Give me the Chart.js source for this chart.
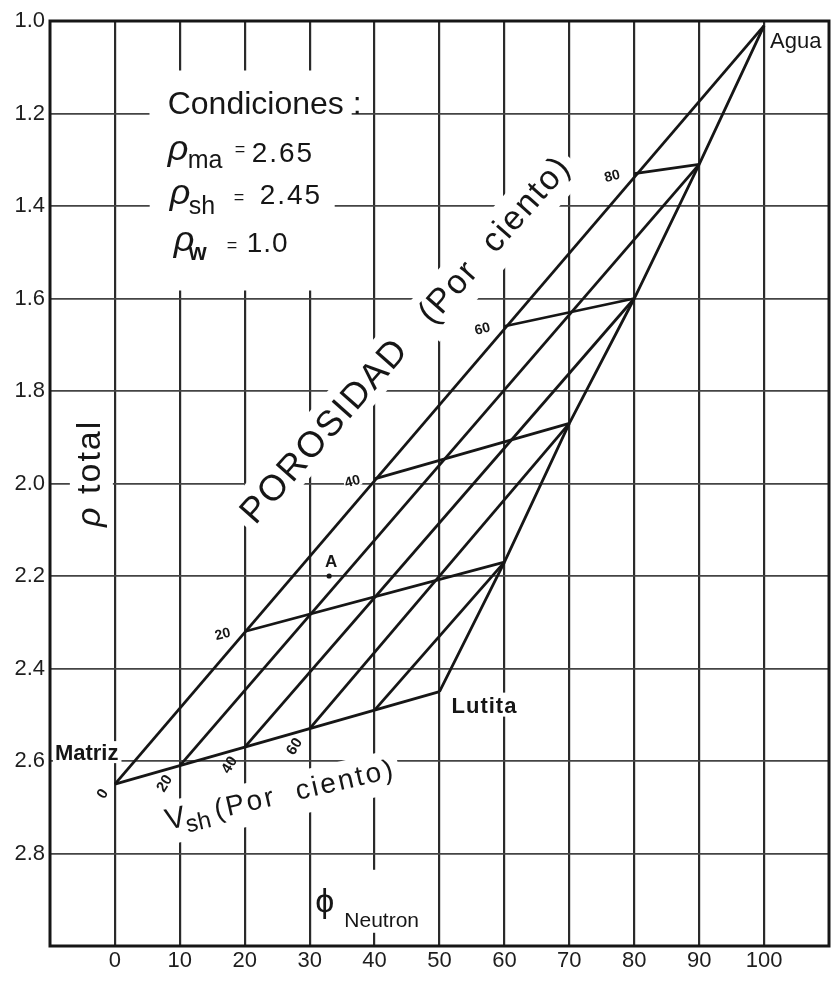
<!DOCTYPE html>
<html>
<head>
<meta charset="utf-8">
<script src="https://cdn.jsdelivr.net/npm/chart.js@4.4.1/dist/chart.umd.min.js"></script>
<style>
  html, body { margin: 0; padding: 0; background: #fff; }
  canvas { display: block; }
</style>
</head>
<body>
<canvas id="chart" width="833" height="984"></canvas>
<script>
// Neutron–density crossplot with shale (Lutita) correction grid

// axis ticks
const neutronTicks = [0, 10, 20, 30, 40, 50, 60, 70, 80, 90, 100];
const densityTicks = [1.0, 1.2, 1.4, 1.6, 1.8, 2.0, 2.2, 2.4, 2.6, 2.8];

// end members: [phi neutron %, bulk density]
const matrixPoint = [0, 2.65];
const shalePoint = [50, 2.45];
const waterPoint = [100, 1.01];

// porosity lines (%): from the clean matrix–water line to the shale–water line
const porosityValues = [20, 40, 60, 80];
const porosityClean = [[20, 2.32], [40, 1.99], [60, 1.66], [80, 1.33]];
const porosityShaly = [[60, 2.17], [70, 1.87], [80, 1.60], [90, 1.31]];

// shale volume lines (%): from the matrix–shale line up to the shale–water line
const vshValues = [0, 20, 40, 60, 80];
const vshBase = [[0, 2.65], [10, 2.61], [20, 2.57], [30, 2.53], [40, 2.49]];
const vshTop = [[100, 1.01], [90, 1.31], [80, 1.60], [70, 1.87], [60, 2.17]];
const vshLabelled = [0, 20, 40, 60];

// sample point A
const pointA = [33, 2.20];

const INK = '#161616';
const FONT = '"Liberation Sans", Arial, Helvetica, sans-serif';
const pt = p => ({ x: p[0], y: p[1] });

function segment(points, width) {
  return {
    type: 'scatter',
    showLine: true,
    data: points.map(pt),
    borderColor: INK,
    borderWidth: width,
    pointRadius: 0,
    pointHoverRadius: 0,
    fill: false,
    tension: 0
  };
}

const datasets = [];
datasets.push(segment([matrixPoint, shalePoint], 2.8));
datasets.push(segment([shalePoint, ...porosityShaly, waterPoint], 2.8));
vshValues.forEach((v, i) => datasets.push(segment([vshBase[i], vshTop[i]], 2.8)));
porosityValues.forEach((v, i) => datasets.push(segment([porosityClean[i], porosityShaly[i]], 2.8)));
datasets.push({
  type: 'scatter',
  data: [pt(pointA)],
  pointRadius: 2.6,
  pointBackgroundColor: INK,
  pointBorderColor: INK,
  pointBorderWidth: 0
});

// text placed on the plot: anchor in data units, offsets in pixels
const textGroups = [
  { at: [8.13, 1.2], runs: [
      { text: 'Condiciones :', font: `32px ${FONT}`, dx: 0, dy: 0 },
      { text: 'ρ', font: `italic 36px ${FONT}`, dx: 0, dy: 46 },
      { text: 'ma', font: `25px ${FONT}`, dx: 20, dy: 54 },
      { text: '=', font: `18px ${FONT}`, dx: 67, dy: 41 },
      { text: '2.65', font: `28px ${FONT}`, dx: 84, dy: 48, spacing: 2 },
      { text: 'ρ', font: `italic 36px ${FONT}`, dx: 2, dy: 90 },
      { text: 'sh', font: `25px ${FONT}`, dx: 21, dy: 100 },
      { text: '=', font: `18px ${FONT}`, dx: 66, dy: 89 },
      { text: '2.45', font: `28px ${FONT}`, dx: 92, dy: 90, spacing: 2 },
      { text: 'ρ', font: `italic 36px ${FONT}`, dx: 6, dy: 137 },
      { text: 'w', font: `bold 23px ${FONT}`, dx: 21, dy: 146 },
      { text: '=', font: `18px ${FONT}`, dx: 59, dy: 137 },
      { text: '1.0', font: `28px ${FONT}`, dx: 79, dy: 138, spacing: 1 }
    ],
    mask: [[-18, -43, 185, 220], [-18, -25, 202, 45]] },
  { at: [32.41, 1.8876], rotate: -48.5, align: 'center', baseline: 'middle',
    runs: [{ text: 'POROSIDAD', font: `36px ${FONT}`, dx: 0, dy: 0, spacing: 2 }], mask: 9 },
  { at: [58.6, 1.4746], rotate: -48.5, align: 'center', baseline: 'middle',
    runs: [{ text: '(Por  ciento)', font: `34px ${FONT}`, dx: 0, dy: 0, spacing: 2 }], mask: 9 },
  { at: [-2.32, 2.094], rotate: -90, runs: [
      { text: 'ρ', font: `italic 34px ${FONT}`, dx: 0, dy: 0 },
      { text: 'total', font: `34px ${FONT}`, dx: 33, dy: 0, spacing: 2 }
    ], mask: 6 },
  { at: [30.87, 2.926], runs: [
      { text: 'ϕ', font: `34px ${FONT}`, dx: 0, dy: 0 },
      { text: 'Neutron', font: `21px ${FONT}`, dx: 29, dy: 15 }
    ], mask: [[-3, -42, 116, 63]] },
  { at: [8.13, 2.749], rotate: -13, runs: [
      { text: 'V', font: `30px ${FONT}`, dx: 0, dy: 0 },
      { text: 'sh', font: `24px ${FONT}`, dx: 19, dy: 7 },
      { text: '(Por  ciento)', font: `28px ${FONT}`, dx: 50, dy: 0, spacing: 2.5 }
    ], mask: 8 },
  { at: matrixPoint, runs: [{ text: 'Matriz', font: `bold 22px ${FONT}`, dx: -60, dy: -24 }], mask: 3 },
  { at: shalePoint, runs: [{ text: 'Lutita', font: `bold 22px ${FONT}`, dx: 12, dy: 21, spacing: 1 }], mask: 4 },
  { at: waterPoint, runs: [{ text: 'Agua', font: `22px ${FONT}`, dx: 6, dy: 22 }] },
  { at: pointA, align: 'center', runs: [{ text: 'A', font: `bold 17px ${FONT}`, dx: 2, dy: -9 }] }
];
porosityValues.forEach((v, i) => textGroups.push({
  at: porosityClean[i], rotate: -15, align: 'center', baseline: 'middle',
  offset: [-22, 3],
  runs: [{ text: String(v), font: `bold 14px ${FONT}`, dx: 0, dy: 0 }], mask: 1
}));
vshLabelled.forEach((v, i) => textGroups.push({
  at: vshBase[i], rotate: -58, align: 'center', baseline: 'middle',
  offset: i === 0 ? [-12, 10] : [-15, 18],
  runs: [{ text: String(v), font: `bold 15px ${FONT}`, dx: 0, dy: 0 }]
}));

function anchorPx(chart, g) {
  const { x, y } = chart.scales;
  const off = g.offset || [0, 0];
  return [x.getPixelForValue(g.at[0]) + off[0], y.getPixelForValue(g.at[1]) + off[1]];
}

function setRun(ctx, g, r) {
  ctx.font = r.font;
  ctx.letterSpacing = (r.spacing || 0) + 'px';
  ctx.textAlign = g.align || 'left';
  ctx.textBaseline = g.baseline || 'alphabetic';
}

const plotText = {
  id: 'plotText',
  beforeDatasetsDraw(chart) {
    const { ctx, chartArea: a } = chart;
    // white patches under the lettering interrupt the grid
    textGroups.forEach(g => {
      if (g.mask === undefined) return;
      const [px, py] = anchorPx(chart, g);
      ctx.save();
      ctx.translate(px, py);
      if (g.rotate) ctx.rotate(g.rotate * Math.PI / 180);
      ctx.fillStyle = '#fff';
      if (Array.isArray(g.mask)) {
        g.mask.forEach(m => ctx.fillRect(m[0], m[1], m[2], m[3]));
      } else {
        let x0 = Infinity, x1 = -Infinity, y0 = Infinity, y1 = -Infinity;
        g.runs.forEach(r => {
          setRun(ctx, g, r);
          const m = ctx.measureText(r.text);
          x0 = Math.min(x0, r.dx - m.actualBoundingBoxLeft);
          x1 = Math.max(x1, r.dx + m.actualBoundingBoxRight);
          y0 = Math.min(y0, r.dy - m.actualBoundingBoxAscent);
          y1 = Math.max(y1, r.dy + m.actualBoundingBoxDescent);
        });
        const p = g.mask;
        ctx.fillRect(x0 - p, y0 - p, x1 - x0 + 2 * p, y1 - y0 + 2 * p);
      }
      ctx.restore();
    });
    // heavy frame
    ctx.save();
    ctx.strokeStyle = INK;
    ctx.lineWidth = 3;
    ctx.strokeRect(a.left, a.top, a.right - a.left, a.bottom - a.top);
    ctx.restore();
  },
  afterDatasetsDraw(chart) {
    const { ctx } = chart;
    textGroups.forEach(g => {
      const [px, py] = anchorPx(chart, g);
      ctx.save();
      ctx.translate(px, py);
      if (g.rotate) ctx.rotate(g.rotate * Math.PI / 180);
      ctx.fillStyle = INK;
      g.runs.forEach(r => {
        setRun(ctx, g, r);
        ctx.fillText(r.text, r.dx, r.dy);
      });
      ctx.restore();
    });
  }
};

new Chart(document.getElementById('chart'), {
  type: 'scatter',
  data: { datasets },
  plugins: [plotText],
  options: {
    responsive: false,
    animation: false,
    devicePixelRatio: 1,
    layout: { padding: { top: 21, right: 2, left: 0, bottom: 0 } },
    plugins: { legend: { display: false }, tooltip: { enabled: false } },
    scales: {
      x: {
        type: 'linear',
        min: -10,
        max: 110,
        afterBuildTicks: s => { s.ticks = [-10, ...neutronTicks, 110].map(v => ({ value: v })); },
        afterFit: s => { s.height = 38; },
        border: { display: false },
        grid: {
          drawTicks: false,
          lineWidth: 2.2,
          color: c => (neutronTicks.includes(c.tick.value) ? '#2a2a2a' : 'rgba(0,0,0,0)')
        },
        ticks: {
          autoSkip: false,
          maxRotation: 0,
          padding: 2,
          color: '#1e1e1e',
          font: { family: FONT, size: 22 },
          callback: v => (neutronTicks.includes(v) ? String(v) : '')
        }
      },
      y: {
        type: 'linear',
        reverse: true,
        min: 1.0,
        max: 3.0,
        afterBuildTicks: s => { s.ticks = [...densityTicks, 3.0].map(v => ({ value: v })); },
        afterFit: s => { s.width = 50; },
        border: { display: false },
        grid: {
          drawTicks: false,
          lineWidth: 1.8,
          color: c => (c.tick.value > 1.05 && c.tick.value < 2.95 ? '#444' : 'rgba(0,0,0,0)')
        },
        ticks: {
          autoSkip: false,
          padding: 5,
          color: '#1e1e1e',
          font: { family: FONT, size: 22 },
          callback: v => (densityTicks.includes(v) ? v.toFixed(1) : '')
        }
      }
    }
  }
});
</script>
</body>
</html>
